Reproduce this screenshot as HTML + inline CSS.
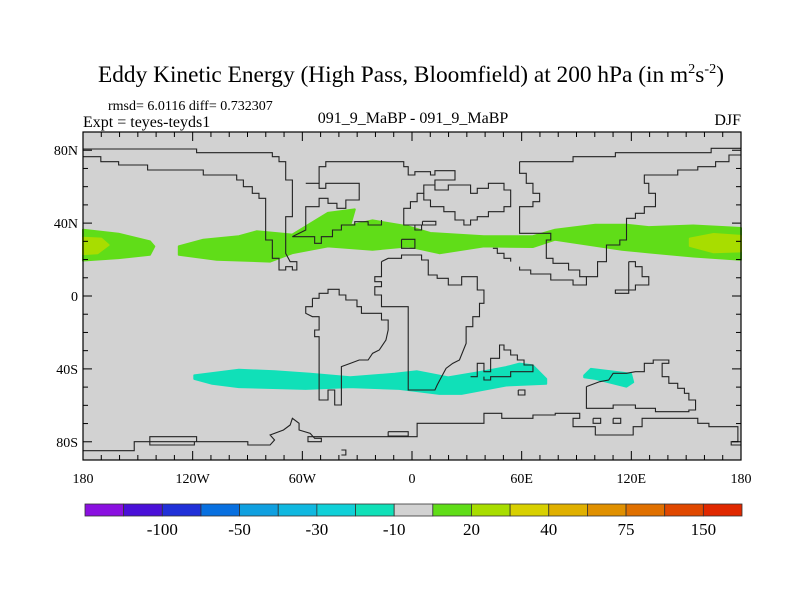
<!DOCTYPE html>
<html><head><meta charset="utf-8"><style>
html,body{margin:0;padding:0;background:#fff;}
svg{display:block;font-family:"Liberation Serif",serif;}
</style></head><body>
<svg id="chart" width="800" height="600" viewBox="0 0 800 600" xmlns="http://www.w3.org/2000/svg">
<text x="411" y="82" font-size="23" text-anchor="middle" textLength="626" lengthAdjust="spacingAndGlyphs">Eddy Kinetic Energy (High Pass, Bloomfield) at 200 hPa (in m<tspan dy="-9" font-size="14">2</tspan><tspan dy="9">s</tspan><tspan dy="-9" font-size="14">-2</tspan><tspan dy="9">)</tspan></text>
<text x="108" y="110" font-size="14">rmsd= 6.0116 diff= 0.732307</text>
<text x="83" y="127" font-size="16">Expt = teyes-teyds1</text>
<text x="413" y="123" font-size="16" text-anchor="middle">091_9_MaBP - 091_9_MaBP</text>
<text x="741" y="125" font-size="16" text-anchor="end">DJF</text>
<g id="map"></g>
<g id="cbar"></g>
</svg>
<script>
const levelLabels = ["-100","-50","-30","-10","20","40","75","150"];
const levelColors = ["#8a10e0","#4a10d8","#2030d8","#0870e0","#10a0e0","#10b8e0","#10d0d8","#10e0b8","#d2d2d2","#60dd18","#a8dd00","#d8d000","#e0b000","#e09000","#e07000","#e04800","#e02800"];
const latTicks = [80,40,0,-40,-80];
const latTickLabels = ["80N","40N","0","40S","80S"];
const lonTicks = [-180,-120,-60,0,60,120,180];
const lonTickLabels = ["180","120W","60W","0","60E","120E","180"];
// Contour bands: [lon, lat] outlines
const nhJetWest = [[-180,36.4],[-160.5,34.2],[-143.4,30],[-141,27.2],[-143.4,22.6],[-160.5,20.8],[-180,19.5]];
const nhJetMain = [[-127.6,27.2],[-114.2,30.9],[-94.7,32.8],[-85,35.5],[-65.5,33.7],[-46,45.6],[-31.3,47.5],[-33.8,38.7],[-21.6,41.5],[-2.1,38.2],[10,34.6],[39.3,32.8],[66.1,32.8],[78.3,36.4],[100.3,39.1],[117.3,39.1],[129.5,37.8],[153.9,38.7],[180,37.3],[180,19.9],[153.9,21.7],[129.5,23.9],[114.9,25.4],[78.3,30.9],[66.1,26.9],[39.3,27.2],[15,23.5],[-2.1,27.2],[-21.6,25.4],[-46,27.2],[-65.5,23.5],[-77.6,18.9],[-106.9,19.9],[-127.6,22.6]];
const nhJetCoreW = [[-180,32],[-170,31.5],[-166,28],[-172,23.5],[-180,23]];
const nhJetCoreE = [[152,31.5],[165,34],[180,33],[180,24.5],[165,24],[152,27.5]];
const shJetMain = [[-119.1,-43.6],[-94.7,-40.5],[-75.2,-41.3],[-55.7,-42.7],[-33.8,-44.6],[-9.4,-42.7],[2.8,-41.3],[19.8,-44.6],[39.3,-41.3],[51.5,-39],[58.8,-37.1],[66.1,-38.1],[73.4,-45.5],[73.4,-48.2],[51.5,-49.1],[27.1,-53.7],[15,-53.7],[-7,-50.97],[-33.8,-50],[-58.2,-50.97],[-94.7,-50],[-109.3,-48.2],[-119.1,-45.5]];
const shJetEast = [[94.2,-43.6],[97.8,-40],[119.8,-42.7],[121,-47.3],[117.3,-49.7],[100.3,-45.5],[94.2,-44.6]];

const L=83,R=741,T=132,B=460;
function xs(lon){return L+(lon+180)/360*(R-L);}
function ys(lat){return 296-lat*(B-T)/180;}
const NS="http://www.w3.org/2000/svg";
function mk(tag,attrs,parent){const e=document.createElementNS(NS,tag);for(const k in attrs)e.setAttribute(k,attrs[k]);parent.appendChild(e);return e;}
const map=document.getElementById('map');
const bg=mk('rect',{x:L,y:T,width:R-L,height:B-T,fill:"#d2d2d2"},map);


function band(pts,color,name){
  const p=mk('polygon',{points:pts.map(q=>xs(q[0]).toFixed(1)+","+ys(q[1]).toFixed(1)).join(" "),fill:color,"stroke":color,"stroke-width":"2","stroke-linejoin":"round"},map);
  
  
}
band(nhJetWest,"#60dd18","nh-jet-band-west");
band(nhJetMain,"#60dd18","nh-jet-band");
band(nhJetCoreW,"#a8dd00","nh-jet-core-west");
band(nhJetCoreE,"#a8dd00","nh-jet-core-east");
band(shJetMain,"#10e0b8","sh-jet-band");
band(shJetEast,"#10e0b8","sh-jet-band-east");

// coastlines (traced outline geometry, not data)
const coast=[
"50,57 305,57 305,68 475,68 475,80 490,80 490,95 505,95 505,150 520,150 520,260 505,260 505,370 515,395 530,395 530,420 520,420 520,410 505,410 505,420 490,420 490,385 475,385 475,330 460,330 460,205 445,205 445,190 430,190 430,170 410,170 410,150 395,150 395,135 320,135 320,120 195,120 195,105 130,105 130,95 90,95 90,80 50,80",
"550,160 580,160 580,175 595,175 595,160 670,160 670,210 640,210 640,235 620,235 620,220 600,220 600,205 580,205 580,230 550,230 550,300 520,320 570,320 570,340 585,340 585,320 610,320 610,300 630,300 630,285 660,285 660,275 690,275 690,285 720,285 720,270",
"600,95 770,95 770,110 780,110 780,135 795,135 795,125 830,125 830,135 840,135 840,122 885,122 885,150 840,150 840,165 815,165 815,190 800,190 800,215 785,215 785,235 770,235 770,285 795,285 795,300 810,300 810,285 795,285",
"600,95 595,95 595,110 580,110 580,160",
"840,165 840,180 870,180 870,165 920,165 920,190 935,190 935,175 960,175 960,160 995,160 995,180 1010,180 1010,230 995,230 995,245 960,245 960,260 935,260 935,270 920,270 920,285 905,285 905,270 885,270 885,245 860,245 860,230 830,230 830,210 815,210 815,190",
"1030,95 1150,95 1150,80 1245,80 1245,68 1460,68 1460,55 1527,55",
"1527,75 1500,75 1500,95 1470,95 1470,110 1430,110 1430,120 1385,120 1385,135 1310,135 1310,160 1320,160 1320,190 1335,190 1335,230 1310,230 1310,250 1290,250 1290,265 1270,265 1270,330 1255,330 1255,345 1225,345 1225,395 1205,395 1205,440 1180,440 1180,465 1150,465 1150,450 1100,450 1100,432 1055,432 1055,420 1030,420 1030,410",
"1030,95 1030,130 1045,130 1045,160 1060,160 1060,190 1075,190 1075,215 1060,215 1060,230 1030,230 1030,310 1100,310 1100,330 1090,330 1090,385 1105,385 1105,400 1140,400 1140,420 1165,420 1165,440 1180,440",
"1275,395 1290,395 1290,410 1305,410 1305,440 1320,440 1320,465 1290,465 1290,480 1245,480 1245,490 1275,490 1275,395",
"970,355 980,355 980,370 995,370 995,385 1010,385 1010,395",
"720,395 735,385 765,385 765,375 810,375 810,390 825,390 825,435 845,435 845,445 870,445 870,465 900,465 900,440 935,440 935,480 950,480 950,520 940,520 940,560 925,560 925,590 910,590 910,640 895,690 880,700 865,715 855,740 845,765 840,780 780,780 780,530 720,530 720,495 705,495 705,470 720,470 720,455 705,455 705,440 720,440 720,395",
"565,505 580,505 580,490 600,490 600,478 625,478 625,495 640,495 640,510 665,510 665,530 675,530 675,550 720,550 720,570 735,570 735,600 730,630 715,660 700,670 690,690 670,690 650,700 630,710 630,825 615,825 615,780 600,780 600,810 580,810 580,620 570,620 570,600 580,600 580,560 565,560 550,550 550,530 565,530 565,505",
"920,740 935,740 935,700 950,700 950,725 965,725 965,685 985,685 985,645 995,645 995,660 1010,660 1010,675 1025,675 1025,690 1040,690 1040,705 1060,705 1060,725 1010,725 1010,740 965,740 965,750 950,750 950,740",
"1180,770 1210,755 1230,750 1240,730 1270,730 1290,725 1310,725 1310,700 1330,700 1330,690 1365,690 1365,700 1350,700 1350,740 1365,740 1365,760 1385,760 1385,775 1400,775 1400,790 1410,790 1410,810 1425,810 1425,840 1410,840 1410,845 1335,845 1335,835 1290,835 1290,825 1240,825 1240,835 1180,835 1180,770",
"50,962 165,962 165,935 305,935 305,920 200,920 200,945 300,945 300,935 420,935 420,945 470,945 480,930 470,915 500,900 515,885 520,865 535,880 535,900 560,910 570,925 585,925 585,935 555,935 555,920 800,920 800,880 950,880 950,850 990,850 990,865 1060,865 1060,855 1110,855 1110,850 1165,850 1165,865 1150,865 1150,890 1200,890 1200,915 1285,915 1285,890 1305,890 1305,865 1430,865 1430,880 1455,880 1455,890 1520,890 1520,935 1505,935 1505,945 1527,945",
"630,960 640,960 640,975 630,975",
"735,905 780,905 780,918 735,918 735,905",
"1195,865 1212,865 1212,880 1195,880 1195,865",
"1240,865 1257,865 1257,880 1240,880 1240,865",
"765,328 795,328 795,355 765,355 765,328",
"812,274 842,274 842,285 812,285 812,274",
"1027,780 1042,780 1042,795 1027,795 1027,780"
];
const cg=mk('g',{transform:`translate(${L-50*(R-L)/1477},130) scale(${(R-L)/1477},${1/3})`},map);


coast.forEach(s=>{const p=mk('polyline',{points:s,fill:"none",stroke:"#222","stroke-width":"1.1","vector-effect":"non-scaling-stroke"},cg);

});

// frame and ticks
const fr=mk('rect',{x:L,y:T,width:R-L,height:B-T,fill:"none",stroke:"#000","stroke-width":"1.2"},map);


for(let lon=-180;lon<=180;lon+=10){const len=lon%60===0?9:5;
 mk('line',{x1:xs(lon),x2:xs(lon),y1:B,y2:B-len,stroke:"#000","stroke-width":"1"},map);
 mk('line',{x1:xs(lon),x2:xs(lon),y1:T,y2:T+len,stroke:"#000","stroke-width":"1"},map);}
for(let lat=-90;lat<=90;lat+=10){const len=(lat%40===0&&Math.abs(lat)<=80)?9:5;
 mk('line',{x1:L,x2:L+len,y1:ys(lat),y2:ys(lat),stroke:"#000","stroke-width":"1"},map);
 mk('line',{x1:R,x2:R-len,y1:ys(lat),y2:ys(lat),stroke:"#000","stroke-width":"1"},map);}
latTicks.forEach((v,i)=>{const t=mk('text',{x:L-5,y:ys(v)+5,"font-size":"14","text-anchor":"end"},map);t.textContent=latTickLabels[i];

});
lonTicks.forEach((v,i)=>{const t=mk('text',{x:xs(v),y:483,"font-size":"14","text-anchor":"middle"},map);t.textContent=lonTickLabels[i];

});

// colorbar
const cb=document.getElementById('cbar');
const cx0=85,cx1=742,cy=504,ch=12,bw=(cx1-cx0)/levelColors.length;
levelColors.forEach((c,i)=>{const r=mk('rect',{x:cx0+i*bw,y:cy,width:bw,height:ch,fill:c,stroke:"#333","stroke-width":"0.8"},cb);

});
levelLabels.forEach((s,i)=>{const t=mk('text',{x:cx0+(i+1)*2*bw,y:535,"font-size":"17","text-anchor":"middle"},cb);t.textContent=s;

});
</script>
</body></html>
